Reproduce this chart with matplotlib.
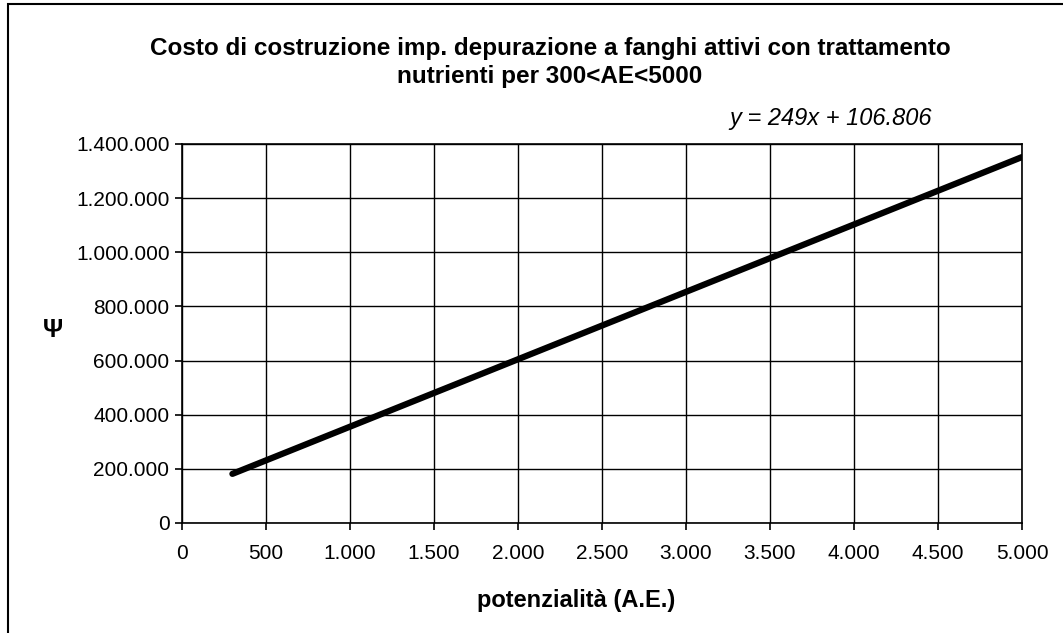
import numpy as np
import matplotlib.pyplot as plt
from matplotlib.ticker import FuncFormatter
from matplotlib.patches import Rectangle

# potenzialità (A.E.) and costo at the two ends of the trend line
ae = [300, 5000]
costo = [181506, 1351806]

x_ticks = np.arange(0, 5001, 500)
y_ticks = np.arange(0, 1400001, 200000)


def punti(v, pos):
    return f"{int(v):,}".replace(",", ".")


plt.rcParams['font.family'] = ['Liberation Sans', 'DejaVu Sans']

fig = plt.figure(figsize=(10.63, 6.33), dpi=100)
ax = fig.add_axes([182 / 1063, 1 - 523 / 633, (1022 - 182) / 1063, (523 - 144) / 633])

# outer frame (only left and top visible in the picture)
fig.patches.append(Rectangle((8 / 1063, -0.1), 1.2, 1 - 4 / 633 + 0.1,
                             transform=fig.transFigure, fill=False,
                             edgecolor='black', linewidth=1.5))

ax.plot(ae, costo, color='black', linewidth=4.5, solid_capstyle='round')

ax.set_xlim(0, 5000)
ax.set_ylim(0, 1400000)
ax.set_xticks(x_ticks)
ax.set_yticks(y_ticks)
ax.xaxis.set_major_formatter(FuncFormatter(punti))
ax.yaxis.set_major_formatter(FuncFormatter(punti))
ax.tick_params(labelsize=15, direction='out', length=5, width=1.2)
ax.tick_params(axis='y', pad=4)
ax.tick_params(axis='x', pad=10)
ax.grid(True, color='black', linewidth=1)
for s in ax.spines.values():
    s.set_linewidth(1.2)

fig.text(576 / 1063, 1 - 600 / 633, 'potenzialità (A.E.)', fontsize=17,
         fontweight='bold', ha='center', va='center')
fig.text(53 / 1063, 1 - 330 / 633, 'Ψ', fontsize=18, fontweight='bold',
         ha='center', va='center')

fig.text(550 / 1063, 1 - 48 / 633,
         'Costo di costruzione imp. depurazione a fanghi attivi con trattamento',
         fontsize=17.5, fontweight='bold', ha='center', va='center')
fig.text(550 / 1063, 1 - 76 / 633, 'nutrienti per 300<AE<5000',
         fontsize=17.5, fontweight='bold', ha='center', va='center')
fig.text(831 / 1063, 1 - 118 / 633, 'y = 249x + 106.806', fontsize=17,
         style='italic', ha='center', va='center')

fig.savefig('out.png', dpi=100)
